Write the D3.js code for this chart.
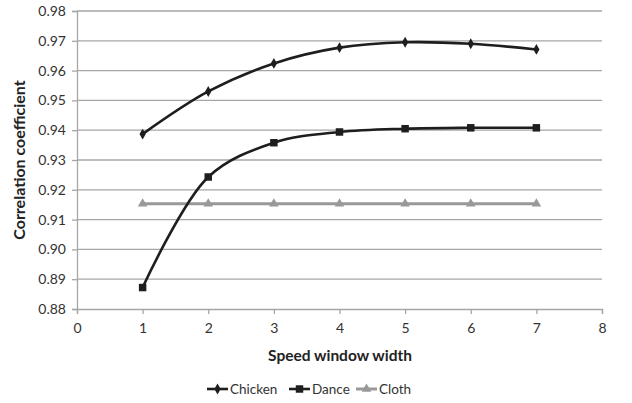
<!DOCTYPE html>
<html>
<head>
<meta charset="utf-8">
<script src="https://cdn.jsdelivr.net/npm/d3@7/dist/d3.min.js"></script>
<style>
  html, body { margin: 0; padding: 0; background: #fff; }
  svg { display: block; font-family: Lato, "Open Sans", sans-serif; }
</style>
</head>
<body>
<svg id="chart" width="632" height="403"></svg>
<script>
// Correlation coefficient vs. speed window width
const windowWidths = [1, 2, 3, 4, 5, 6, 7];
const chicken = [0.9387, 0.9530, 0.9624, 0.9677, 0.9695, 0.9690, 0.9671];
const dance   = [0.8872, 0.9243, 0.9358, 0.9394, 0.9405, 0.9408, 0.9408];
const cloth   = [0.9153, 0.9153, 0.9153, 0.9153, 0.9153, 0.9153, 0.9153];
const xTicks = [0, 1, 2, 3, 4, 5, 6, 7, 8];
const yTicks = [0.88, 0.89, 0.90, 0.91, 0.92, 0.93, 0.94, 0.95, 0.96, 0.97, 0.98];

const seriesList = [
  { name: "Chicken", values: chicken, color: "#1e1e1e", width: 2.6, symbol: d3.symbolDiamond, size: 34 },
  { name: "Dance",   values: dance,   color: "#1e1e1e", width: 2.6, symbol: d3.symbolSquare,  size: 56 },
  { name: "Cloth",   values: cloth,   color: "#999999", width: 3,   symbol: d3.symbolTriangle, size: 40 }
];

const svg = d3.select("#chart");
const margin = { left: 77, right: 30, top: 11, bottom: 94 };
const W = 632, H = 403;

const x = d3.scaleLinear().domain([0, 8]).range([margin.left, W - margin.right]);
const y = d3.scaleLinear().domain([0.88, 0.98]).range([H - margin.bottom, margin.top]);

const gridColor = "#a6a6a6";

// horizontal gridlines
svg.append("g")
  .selectAll("line")
  .data(yTicks.slice(1))
  .join("line")
  .attr("x1", x(0)).attr("x2", x(8))
  .attr("y1", d => y(d)).attr("y2", d => y(d))
  .attr("stroke", gridColor).attr("stroke-width", 1.3);

// y axis
const yAxis = svg.append("g")
  .attr("transform", `translate(${x(0)},0)`)
  .call(d3.axisLeft(y).tickValues(yTicks).tickFormat(d3.format(".2f")).tickSize(5).tickPadding(6));
// x axis
const xAxis = svg.append("g")
  .attr("transform", `translate(0,${y(0.88)})`)
  .call(d3.axisBottom(x).tickValues(xTicks).tickFormat(d3.format("d")).tickSize(5).tickPadding(9));

[yAxis, xAxis].forEach(g => {
  g.select(".domain").attr("stroke", gridColor).attr("stroke-width", 1.3);
  g.selectAll(".tick line").attr("stroke", gridColor).attr("stroke-width", 1.3);
  g.selectAll(".tick text").attr("fill", "#333").style("font-size", "14px")
    .style("font-family", "Lato, 'Open Sans', sans-serif");
});

// axis titles
svg.append("text")
  .attr("x", 340).attr("y", 361)
  .attr("text-anchor", "middle")
  .attr("font-weight", "bold").attr("font-size", 15.5).attr("fill", "#222")
  .text("Speed window width");

svg.append("text")
  .attr("transform", `translate(25,${(y(0.88) + y(0.98)) / 2}) rotate(-90)`)
  .attr("text-anchor", "middle")
  .attr("font-weight", "bold").attr("font-size", 16).attr("fill", "#222")
  .text("Correlation coefficient");

// series lines and markers
const line = d3.line()
  .x((d, i) => x(windowWidths[i]))
  .y(d => y(d))
  .curve(d3.curveCatmullRom.alpha(0.5));

const plot = svg.append("g");
seriesList.slice().reverse().forEach(s => {
  plot.append("path")
    .datum(s.values)
    .attr("fill", "none")
    .attr("stroke", s.color)
    .attr("stroke-width", s.width)
    .attr("d", line);
  plot.append("g")
    .selectAll("path")
    .data(s.values)
    .join("path")
    .attr("transform", (d, i) => `translate(${x(windowWidths[i])},${y(d)})`)
    .attr("d", d3.symbol().type(s.symbol).size(s.size))
    .attr("fill", s.color);
});

// legend
const legendY = 389;
const legendItems = [
  { s: seriesList[0], x0: 207 },
  { s: seriesList[1], x0: 289 },
  { s: seriesList[2], x0: 356 }
];
legendItems.forEach(({ s, x0 }) => {
  const g = svg.append("g");
  g.append("line")
    .attr("x1", x0).attr("x2", x0 + 21)
    .attr("y1", legendY).attr("y2", legendY)
    .attr("stroke", s.color).attr("stroke-width", s.width);
  g.append("path")
    .attr("transform", `translate(${x0 + 10.5},${legendY})`)
    .attr("d", d3.symbol().type(s.symbol).size(s.size))
    .attr("fill", s.color);
  g.append("text")
    .attr("x", x0 + 23).attr("y", legendY + 5)
    .attr("font-size", 13.5).attr("fill", "#333")
    .text(s.name);
});
</script>
</body>
</html>
